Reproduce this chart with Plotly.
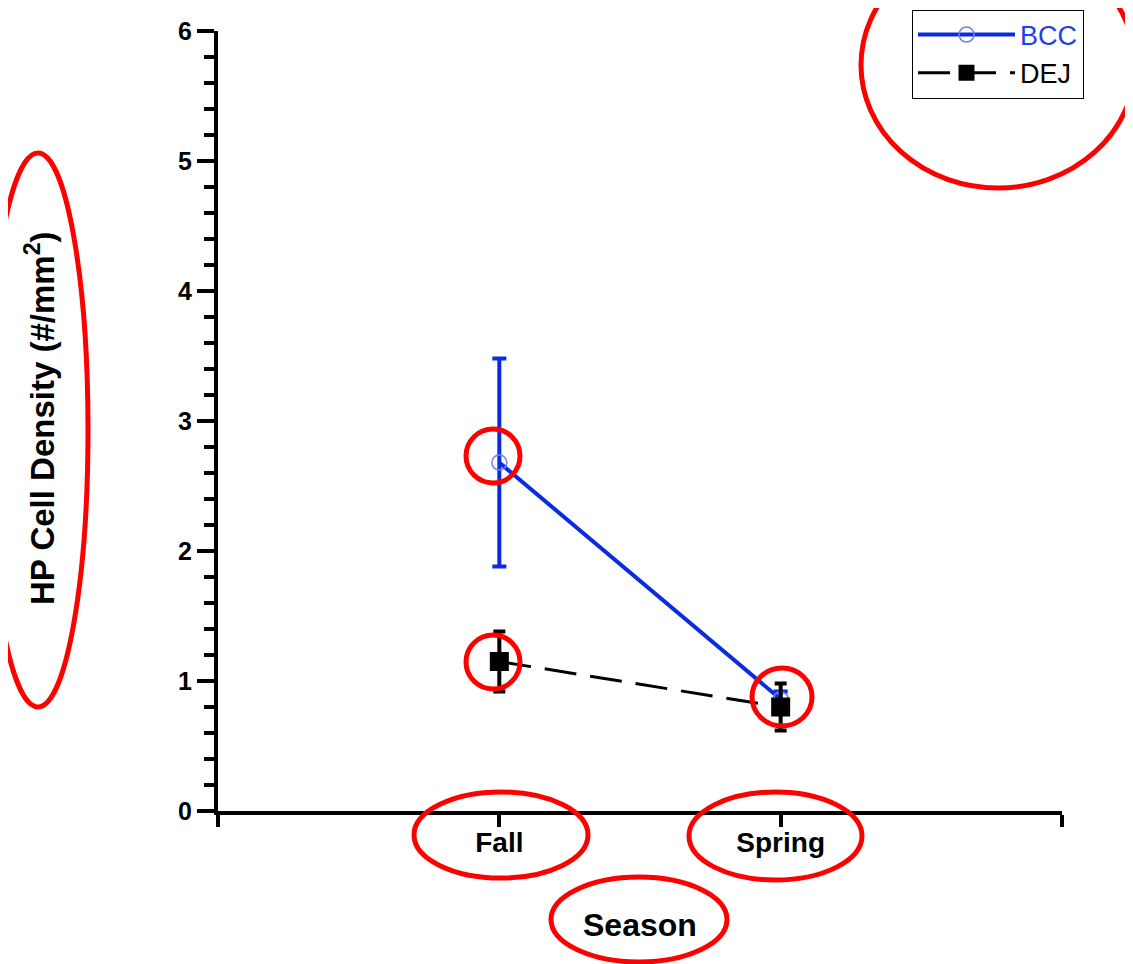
import plotly.graph_objects as go

seasons = ["Fall", "Spring"]
season_pos = [1, 2]
bcc_mean = [2.68, 0.86]
bcc_err = [0.80, 0.06]
dej_mean = [1.15, 0.80]
dej_err = [0.23, 0.18]

ytick_vals = [0, 1, 2, 3, 4, 5, 6]
x_end_ticks = [0, 3]

OFF = 8  # page body margin
W, H = 1133 - OFF, 964 - OFF
L, R, T, B = 218 - OFF, 71, 31 - OFF, 153
pw, ph = W - L - R, H - T - B


def px_x(x):
    return (x - OFF - L) / pw


def px_y(y):
    return (H - B - (y - OFF)) / ph


FONT = "Arial, Liberation Sans, sans-serif"
BLUE = "#0a2be0"

fig = go.Figure()
fig.add_trace(go.Scatter(
    x=season_pos, y=bcc_mean, name="<span style='color:#1f3fe8'>BCC</span>",
    mode="lines+markers",
    line=dict(color=BLUE, width=4),
    marker=dict(symbol="circle-open", size=15, color="#6f7ff0", line=dict(width=1.5)),
    error_y=dict(type="data", array=bcc_err, color=BLUE, thickness=4, width=7),
))
fig.add_trace(go.Scatter(
    x=season_pos, y=dej_mean, name="DEJ",
    mode="lines+markers",
    line=dict(color="black", width=3, dash="32px,14px"),
    marker=dict(symbol="square", size=19, color="black"),
    error_y=dict(type="data", array=dej_err, color="black", thickness=4, width=6),
))

fig.update_layout(
    width=W, height=H,
    margin=dict(l=L, r=R, t=T, b=B, autoexpand=False),
    paper_bgcolor="white", plot_bgcolor="white",
    font=dict(family=FONT, color="black"),
    showlegend=True,
    legend=dict(
        x=px_x(912), y=px_y(9.5), xanchor="left", yanchor="top",
        bordercolor="black", borderwidth=1, bgcolor="white",
        font=dict(size=27, family=FONT, color="black"),
        itemwidth=97, tracegroupgap=0,
    ),
)

fig.update_xaxes(
    range=[0, 3], tickvals=season_pos, ticktext=seasons,
    showline=True, linecolor="black", linewidth=4,
    ticks="outside", ticklen=12, tickwidth=4, tickcolor="black",
    ticklabelstandoff=-9,
    minor=dict(tickvals=x_end_ticks, ticks="outside", ticklen=12, tickwidth=4, tickcolor="black"),
    showgrid=False, zeroline=False,
    tickfont=dict(size=28, family=FONT, color="black", weight="bold"),
)
fig.update_yaxes(
    range=[0, 6], tickvals=ytick_vals,
    showline=True, linecolor="black", linewidth=4,
    ticks="outside", ticklen=17, tickwidth=4, tickcolor="black",
    minor=dict(dtick=0.2, ticks="outside", ticklen=10, tickwidth=4, tickcolor="black"),
    showgrid=False, zeroline=False,
    tickfont=dict(size=25, family=FONT, color="black", weight="bold"),
)

fig.add_annotation(
    text="HP Cell Density (#/mm<sup>2</sup>)", textangle=-90,
    xref="paper", yref="paper", x=px_x(40), y=px_y(418),
    xanchor="center", yanchor="middle",
    showarrow=False, font=dict(size=33, family=FONT, color="black", weight="bold"),
)
fig.add_annotation(
    text="Season", xref="paper", yref="paper", x=px_x(640), y=px_y(925),
    xanchor="center", yanchor="middle",
    showarrow=False, font=dict(size=32, family=FONT, color="black", weight="bold"),
)

ellipses = [
    (861, -58, 1135, 188),
    (-12, 153, 88, 707),
    (466, 429, 520, 483),
    (466, 635, 520, 689),
    (752, 668, 812, 726),
    (414, 792, 588, 878),
    (689, 792, 862, 880),
    (551, 877, 727, 962),
]
for x0, y0, x1, y1 in ellipses:
    fig.add_shape(type="circle", xref="paper", yref="paper",
                  x0=px_x(x0), x1=px_x(x1), y0=px_y(y1), y1=px_y(y0),
                  line=dict(color="red", width=5), layer="above")

fig.write_html("out.html")
